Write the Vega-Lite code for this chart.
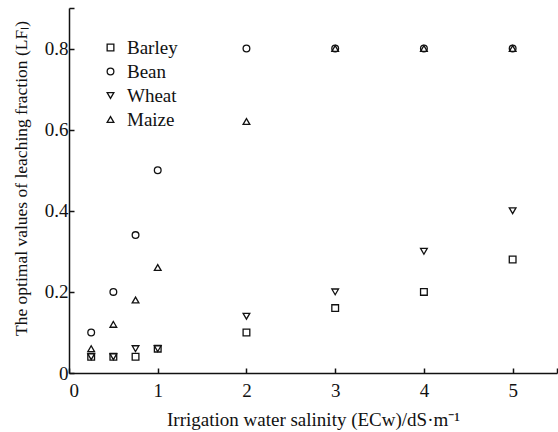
{
  "$schema": "https://vega.github.io/schema/vega-lite/v6.json",
  "width": 488,
  "height": 365,
  "autosize": {"type": "none"},
  "padding": {"left": 69, "top": 8, "right": 1, "bottom": 59},
  "background": "white",
  "config": {
    "view": {"stroke": null},
    "font": "Liberation Serif",
    "axis": {
      "grid": false,
      "domainColor": "#111",
      "domainWidth": 1.5,
      "tickColor": "#111",
      "tickWidth": 1.5,
      "tickSize": -5,
      "labelColor": "#111",
      "titleColor": "#111",
      "labelFont": "Liberation Serif",
      "titleFont": "Liberation Serif",
      "labelFontSize": 19,
      "titleFontSize": 19,
      "titleFontWeight": "normal"
    },
    "legend": {
      "labelFont": "Liberation Serif",
      "labelFontSize": 19,
      "labelColor": "#111"
    }
  },
  "data": {
    "values": [
      {"crop": "Barley", "ecw": 0.25, "lf": 0.04},
      {"crop": "Barley", "ecw": 0.5, "lf": 0.04},
      {"crop": "Barley", "ecw": 0.75, "lf": 0.04},
      {"crop": "Barley", "ecw": 1, "lf": 0.06},
      {"crop": "Barley", "ecw": 2, "lf": 0.1},
      {"crop": "Barley", "ecw": 3, "lf": 0.16},
      {"crop": "Barley", "ecw": 4, "lf": 0.2},
      {"crop": "Barley", "ecw": 5, "lf": 0.28},
      {"crop": "Bean", "ecw": 0.25, "lf": 0.1},
      {"crop": "Bean", "ecw": 0.5, "lf": 0.2},
      {"crop": "Bean", "ecw": 0.75, "lf": 0.34},
      {"crop": "Bean", "ecw": 1, "lf": 0.5},
      {"crop": "Bean", "ecw": 2, "lf": 0.8},
      {"crop": "Bean", "ecw": 3, "lf": 0.8},
      {"crop": "Bean", "ecw": 4, "lf": 0.8},
      {"crop": "Bean", "ecw": 5, "lf": 0.8},
      {"crop": "Wheat", "ecw": 0.25, "lf": 0.04},
      {"crop": "Wheat", "ecw": 0.5, "lf": 0.04},
      {"crop": "Wheat", "ecw": 0.75, "lf": 0.06},
      {"crop": "Wheat", "ecw": 1, "lf": 0.06},
      {"crop": "Wheat", "ecw": 2, "lf": 0.14},
      {"crop": "Wheat", "ecw": 3, "lf": 0.2},
      {"crop": "Wheat", "ecw": 4, "lf": 0.3},
      {"crop": "Wheat", "ecw": 5, "lf": 0.4},
      {"crop": "Maize", "ecw": 0.25, "lf": 0.06},
      {"crop": "Maize", "ecw": 0.5, "lf": 0.12},
      {"crop": "Maize", "ecw": 0.75, "lf": 0.18},
      {"crop": "Maize", "ecw": 1, "lf": 0.26},
      {"crop": "Maize", "ecw": 2, "lf": 0.62},
      {"crop": "Maize", "ecw": 3, "lf": 0.8},
      {"crop": "Maize", "ecw": 4, "lf": 0.8},
      {"crop": "Maize", "ecw": 5, "lf": 0.8}
    ]
  },
  "mark": {"type": "point", "filled": false, "color": "#111", "strokeWidth": 1.3, "size": 45, "opacity": 1},
  "encoding": {
    "x": {
      "field": "ecw",
      "type": "quantitative",
      "scale": {"domain": [0, 5.5], "nice": false, "zero": true},
      "axis": {
        "values": [0, 1, 2, 3, 4, 5, 5.5],
        "format": "~g",
        "labelExpr": "datum.value > 5.2 ? '' : datum.label",
        "labelPadding": 13,
        "title": "Irrigation water salinity (ECw)/dS·m⁻¹",
        "titlePadding": 10
      }
    },
    "y": {
      "field": "lf",
      "type": "quantitative",
      "scale": {"domain": [0, 0.9], "nice": false},
      "axis": {
        "values": [0, 0.2, 0.4, 0.6, 0.8, 0.9],
        "format": "~g",
        "labelExpr": "datum.value > 0.85 ? '' : datum.label",
        "labelPadding": 6,
        "title": "The optimal values of leaching fraction (LFₗ)",
        "titleFontSize": 17.5,
        "titlePadding": 14,
        "titleY": 170
      }
    },
    "shape": {
      "field": "crop",
      "type": "nominal",
      "scale": {
        "domain": ["Barley", "Bean", "Wheat", "Maize"],
        "range": ["square", "circle", "triangle-down", "triangle-up"]
      },
      "legend": {
        "title": null,
        "orient": "none",
        "legendX": 32,
        "legendY": 30,
        "rowPadding": 4,
        "symbolStrokeColor": "#111",
        "symbolStrokeWidth": 1.3,
        "symbolSize": 45,
        "labelOffset": 7
      }
    }
  }
}
